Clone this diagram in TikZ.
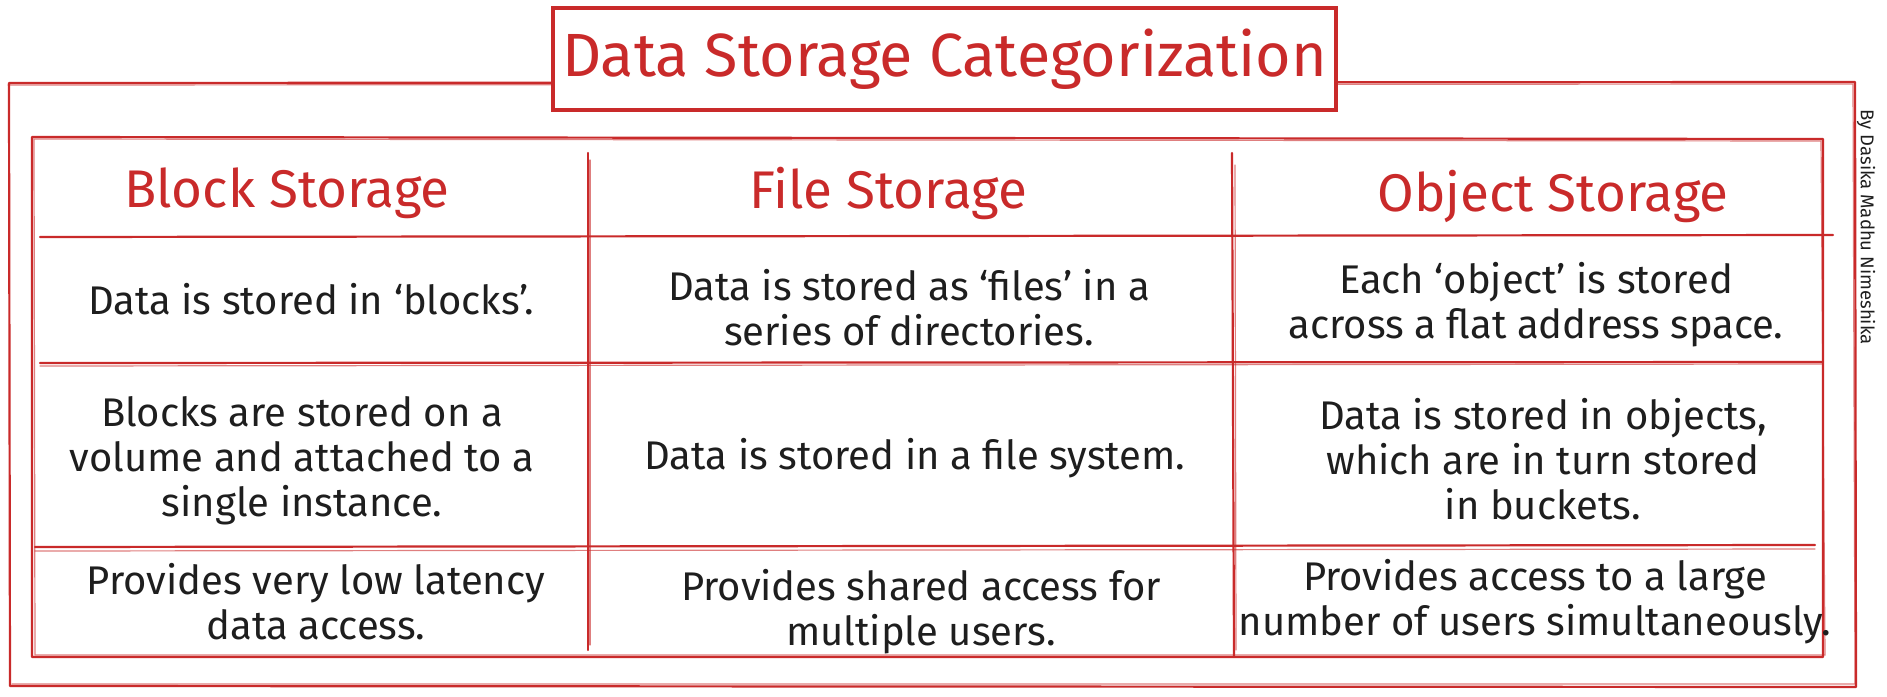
\documentclass[tikz,border=0pt]{standalone}
\usepackage{fontspec}
\setmainfont{Fira Sans}
\definecolor{skred}{HTML}{C92A2A}
\definecolor{ink}{HTML}{1E1E1E}
\begin{document}
\begin{tikzpicture}[x=1pt,y=-1pt,
  frame/.style={draw=skred, line width=2.2pt, line join=round, line cap=round},
  ghost/.style={draw=skred, line width=1.2pt, opacity=0.6, line cap=round},
  head/.style={text=skred, font=\fontsize{53}{58}\selectfont, anchor=center},
  cell/.style={text=ink, font=\fontsize{40}{45}\selectfont, align=center, anchor=center},
]
\useasboundingbox (0,0) rectangle (1887,696);
% outer frame
\draw[frame] (9,83) -- (1855,82) -- (1856,687) -- (10,686) -- cycle;
\draw[ghost] (8,85) -- (1853,84) -- (1855,684) -- (12,684);
% title box
\node (title) [draw=skred, line width=4.5pt, fill=white, minimum width=783pt, minimum height=102pt,
  text=skred, font=\fontsize{61}{66}\selectfont] at (944.5,59) {Data Storage Categorization};
% table
\draw[frame] (32,137) -- (1823,139) -- (1823,657) -- (32,657) -- cycle;
\draw[ghost] (34,139) -- (1821,141) -- (1825,655) -- (35,655) -- cycle;
\draw[frame] (40,237) -- (1833,235);
\draw[frame] (40,363) -- (1823,362);
\draw[ghost] (40,366) -- (1823,364);
\draw[frame] (35,547) -- (1815,545);
\draw[ghost] (35,551) -- (1815,549);
\draw[frame] (588,153) -- (588,650);
\draw[ghost] (590,160) -- (590,645);
\draw[frame] (1232,153) -- (1234,657);
\draw[ghost] (1235,165) -- (1236,650);
% headers
\node (hblock) [head] at (287,193) {Block Storage};
\node (hfile) [head] at (888,193) {File Storage};
\node (hobj) [head] at (1553,196) {Object Storage};
% row 1
\node (b1) [cell] at (311,299) {Data is stored in ‘blocks’.};
\node (f1) [cell] at (909,308) {Data is stored as ‘files’ in a\\series of directories.};
\node (o1) [cell] at (1536,305) {Each ‘object’ is stored\\across a flat address space.};
% row 2
\node (b2) [cell] at (302,461) {Blocks are stored on a\\volume and attached to a\\single instance.};
\node (f2) [cell] at (915,458) {Data is stored in a file system.};
\node (o2) [cell] at (1543,459) {Data is stored in objects,\\which are in turn stored\\in buckets.};
% row 3
\node (b3) [cell] at (316,602) {Provides very low latency\\data access.};
\node (f3) [cell] at (921,612) {Provides shared access for\\multiple users.};
\node (o3) [cell] at (1535,602) {Provides access to a large\\number of users simultaneously.};
% author
\node (author) [text=ink, font=\fontsize{18.5}{20}\selectfont, rotate=-90] at (1866,227) {By Dasika Madhu Nimeshika};
\end{tikzpicture}
\end{document}
